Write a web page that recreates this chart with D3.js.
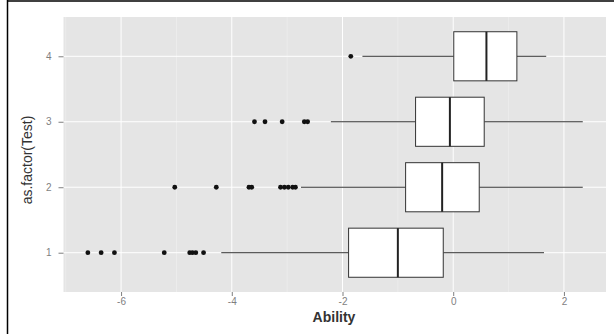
<!DOCTYPE html>
<html>
<head>
<meta charset="utf-8">
<script src="https://cdn.jsdelivr.net/npm/d3@7"></script>
<style>
  body { margin: 0; background: #fff; }
  svg { display: block; }
</style>
</head>
<body>
<div id="chart"></div>
<script>
// box stats per test
var tests = ["1", "2", "3", "4"];
var lowerWhisker = [-4.19, -2.75, -2.21, -1.64];
var q1 = [-1.89, -0.86, -0.68, 0.01];
var medians = [-1.00, -0.20, -0.06, 0.60];
var q3 = [-0.18, 0.47, 0.56, 1.15];
var upperWhisker = [1.64, 2.34, 2.34, 1.68];
var outliers = [
    [-6.60, -6.36, -6.12, -5.22, -4.76, -4.71, -4.65, -4.51],
    [-5.03, -4.28, -3.69, -3.64, -3.12, -3.05, -2.98, -2.90, -2.85],
    [-3.59, -3.40, -3.09, -2.69, -2.63],
    [-1.85]
];
var xTicks = [-6, -4, -2, 0, 2];
var xMinor = [-7, -5, -3, -1, 1];

(function() {
    var width = 614, height = 334;
    var pLeft = 63.5, pRight = 606, pTop = 17, pBottom = 292;
    var font = 'Arial, Liberation Sans, sans-serif';

    var svg = d3.select('#chart').append('svg')
        .attr('width', width)
        .attr('height', height);

    // frame lines of the original image
    svg.append('line').attr('x1', 7.5).attr('x2', 7.5).attr('y1', 0).attr('y2', height).attr('stroke', '#000').attr('stroke-width', 1.5);
    svg.append('line').attr('x1', 7).attr('x2', width).attr('y1', 1).attr('y2', 1).attr('stroke', '#000').attr('stroke-width', 1.5);

    var x = d3.scaleLinear()
        .domain([-7.04, 2.76])
        .range([pLeft, pRight]);

    var y = d3.scalePoint()
        .domain(tests.slice().reverse())
        .range([pTop, pBottom])
        .padding(0.6);

    var step = y.step();

    // panel
    svg.append('rect')
        .attr('x', pLeft).attr('y', pTop)
        .attr('width', pRight - pLeft).attr('height', pBottom - pTop)
        .attr('fill', '#e5e5e5');

    // minor grid
    svg.append('g').selectAll('line')
        .data(xMinor)
        .join('line')
            .attr('x1', d => x(d)).attr('x2', d => x(d))
            .attr('y1', pTop).attr('y2', pBottom)
            .attr('stroke', '#f2f2f2').attr('stroke-width', 0.5);

    // major grid
    svg.append('g').selectAll('line')
        .data(xTicks)
        .join('line')
            .attr('x1', d => x(d)).attr('x2', d => x(d))
            .attr('y1', pTop).attr('y2', pBottom)
            .attr('stroke', '#fff').attr('stroke-width', 1);

    svg.append('g').selectAll('line')
        .data(tests)
        .join('line')
            .attr('x1', pLeft).attr('x2', pRight)
            .attr('y1', d => y(d)).attr('y2', d => y(d))
            .attr('stroke', '#fff').attr('stroke-width', 1);

    // boxes
    var boxH = step * 0.75;
    var boxes = svg.append('g').selectAll('g')
        .data(tests)
        .join('g');

    boxes.append('line')
        .attr('x1', (d, i) => x(lowerWhisker[i])).attr('x2', (d, i) => x(q1[i]))
        .attr('y1', d => y(d)).attr('y2', d => y(d))
        .attr('stroke', '#333').attr('stroke-width', 1);

    boxes.append('line')
        .attr('x1', (d, i) => x(q3[i])).attr('x2', (d, i) => x(upperWhisker[i]))
        .attr('y1', d => y(d)).attr('y2', d => y(d))
        .attr('stroke', '#333').attr('stroke-width', 1);

    boxes.append('rect')
        .attr('x', (d, i) => x(q1[i]))
        .attr('y', d => y(d) - boxH / 2)
        .attr('width', (d, i) => x(q3[i]) - x(q1[i]))
        .attr('height', boxH)
        .attr('fill', '#fff')
        .attr('stroke', '#333').attr('stroke-width', 1);

    boxes.append('line')
        .attr('x1', (d, i) => x(medians[i])).attr('x2', (d, i) => x(medians[i]))
        .attr('y1', d => y(d) - boxH / 2).attr('y2', d => y(d) + boxH / 2)
        .attr('stroke', '#222').attr('stroke-width', 2);

    // outlier points
    boxes.each(function(d, i) {
        d3.select(this).selectAll('circle')
            .data(outliers[i])
            .join('circle')
                .attr('cx', v => x(v))
                .attr('cy', y(d))
                .attr('r', 2.4)
                .attr('fill', '#111');
    });

    // x axis
    var xAxis = svg.append('g')
        .attr('transform', `translate(0, ${pBottom})`)
        .call(d3.axisBottom(x).tickValues(xTicks).tickSize(4).tickPadding(2).tickFormat(d => d < 0 ? '-' + Math.abs(d) : d));
    xAxis.select('.domain').remove();
    xAxis.selectAll('line').attr('stroke', '#7f7f7f');
    xAxis.selectAll('text').attr('fill', '#7f7f7f').attr('font-size', '10px').attr('font-family', font);

    // y axis
    var yAxis = svg.append('g')
        .attr('transform', `translate(${pLeft}, 0)`)
        .call(d3.axisLeft(y).tickSize(5).tickPadding(7));
    yAxis.select('.domain').remove();
    yAxis.selectAll('line').attr('stroke', '#7f7f7f');
    yAxis.selectAll('text').attr('fill', '#7f7f7f').attr('font-size', '10px').attr('font-family', font);

    // titles
    svg.append('text')
        .attr('x', 334)
        .attr('y', 322)
        .attr('text-anchor', 'middle')
        .attr('font-size', '14px')
        .attr('font-weight', 'bold')
        .attr('font-family', font)
        .attr('fill', '#333')
        .text('Ability');

    svg.append('text')
        .attr('transform', `translate(32, 160) rotate(-90)`)
        .attr('text-anchor', 'middle')
        .attr('font-size', '14px')
        .attr('font-family', font)
        .attr('fill', '#333')
        .text('as.factor(Test)');
})();
</script>
</body>
</html>
